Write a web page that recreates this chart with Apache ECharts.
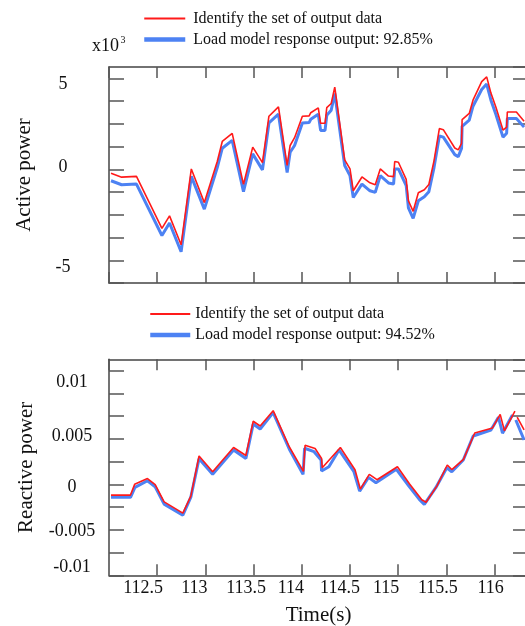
<!DOCTYPE html>
<html><head><meta charset="utf-8">
<script src="https://cdn.jsdelivr.net/npm/echarts@6/dist/echarts.min.js"></script>
<style>html,body{margin:0;padding:0;background:#fff}#c{width:525px;height:626px}</style>
</head><body><div id="c"></div>
<script>
// ---- Data ----
// Active power, in units of 10^3
const timeP = [112.021,112.131,112.285,112.549,112.628,112.748,112.854,112.989,113.123,113.175,113.278,113.395,113.491,113.592,113.659,113.758,113.848,113.879,113.925,114.006,114.076,114.093,114.171,114.195,114.241,114.259,114.305,114.342,114.445,114.500,114.534,114.624,114.707,114.762,114.814,114.899,114.952,114.964,115.002,115.083,115.106,115.155,115.209,115.271,115.318,115.372,115.427,115.468,115.587,115.623,115.657,115.663,115.737,115.776,115.866,115.918,115.962,116.013,116.087,116.125,116.132,116.226,116.306];
const activeMeasured = [-0.22,-0.43,-0.39,-3.25,-2.56,-4.15,0.02,-1.83,0.43,1.53,1.98,-0.83,1.22,0.37,2.92,3.43,0.21,1.31,1.74,2.92,2.94,3.11,3.38,2.53,2.53,3.39,3.62,4.52,0.52,0.02,-1.18,-0.42,-0.74,-0.85,0.02,-0.37,-0.40,0.43,0.39,-0.55,-1.73,-2.31,-1.29,-1.12,-0.83,0.48,2.24,2.18,1.17,1.07,1.42,2.73,3.07,3.80,4.82,5.08,4.19,3.42,2.16,2.32,3.15,3.15,2.64];
const activeModel = [-0.63,-0.85,-0.81,-3.64,-2.95,-4.53,-0.39,-2.19,0.09,1.16,1.59,-1.23,0.85,-0.03,2.55,3.03,-0.17,0.94,1.31,2.55,2.57,2.75,3.03,2.14,2.14,2.97,3.25,4.17,0.21,-0.35,-1.55,-0.81,-1.18,-1.27,-0.35,-0.75,-0.81,0.02,0.02,-0.90,-2.12,-2.70,-1.73,-1.51,-1.23,0.11,1.83,1.77,0.81,0.70,1.15,2.36,2.70,3.47,4.39,4.69,3.80,3.03,1.77,1.98,2.79,2.79,2.32];

// Reactive power
const timeQMeasured = [112.021,112.223,112.266,112.399,112.479,112.572,112.766,112.849,112.934,113.075,113.292,113.420,113.496,113.568,113.703,113.871,114.017,114.034,114.138,114.205,114.212,114.400,114.552,114.607,114.700,114.780,114.992,115.116,115.245,115.289,115.401,115.509,115.556,115.677,115.794,115.978,116.058,116.102,116.211,116.222,116.234,116.306];
const reactiveMeasured = [-0.00118,-0.00118,0.00000,0.00064,-0.00004,-0.00192,-0.00316,-0.00129,0.00312,0.00139,0.00405,0.00317,0.00694,0.00642,0.00810,0.00411,0.00143,0.00430,0.00394,0.00286,0.00183,0.00405,0.00161,-0.00052,0.00110,0.00051,0.00194,0.00006,-0.00170,-0.00197,-0.00019,0.00213,0.00163,0.00275,0.00565,0.00620,0.00769,0.00589,0.00804,null,0.00738,0.00598];
const timeQModel = [112.021,112.223,112.269,112.399,112.479,112.572,112.766,112.849,112.934,113.075,113.292,113.420,113.496,113.568,113.703,113.871,114.013,114.029,114.127,114.200,114.205,114.281,114.386,114.541,114.600,114.692,114.769,114.981,115.111,115.219,115.271,115.390,115.504,115.556,115.675,115.778,115.962,116.040,116.082,116.185,116.195,116.220,116.306];
const reactiveModel = [-0.00143,-0.00143,-0.00033,0.00040,-0.00026,-0.00217,-0.00338,-0.00140,0.00282,0.00110,0.00378,0.00284,0.00664,0.00609,0.00789,0.00386,0.00110,0.00397,0.00359,0.00268,0.00147,0.00194,0.00378,0.00139,-0.00074,0.00077,0.00018,0.00165,-0.00019,-0.00165,-0.00220,-0.00037,0.00183,0.00139,0.00268,0.00532,0.00598,0.00738,0.00562,0.00763,null,0.00708,0.00488];

const legendNames = ['Identify the set of output data','Load model response output: 92.85%','Load model response output: 94.52%'];
const xTickLabels = ['112.5','113','113.5','114','114.5','115','115.5','116'];
const yTickLabelsP = ['-5','0','5'];
const yTickLabelsQ = ['-0.01','-0.005','0','0.005','0.01'];

// ---- Chart ----
const RED = '#ff1a1a', BLUE = '#4d82f3';
const FONT = 'Liberation Serif';
const zip = (ts, vs) => ts.map((t, i) => [t, vs[i] === null ? '-' : vs[i]]);
const near = (a, b) => Math.abs(a - b) < 1e-7;

const XMIN = 112, XMAX = 116.3465;
const axisLine = { show: true, onZero: false, lineStyle: { color: '#444', width: 1.5 } };

const richBase = { fontFamily: FONT, fontSize: 18, color: '#111' };
// horizontal nudges of the time labels, as in the reference
const xShift = [28, 22, 15, 22, 20, 24, 17, 8];
const xRich = {};
xShift.forEach((s, i) => { xRich['x' + i] = Object.assign({ padding: [0, s, 0, 0] }, richBase); });

function xAxis(grid, pos, labels) {
  return {
    type: 'value', gridIndex: grid, position: pos, min: XMIN, max: XMAX, interval: 0.5,
    axisLine: axisLine,
    axisTick: { show: true, inside: true, length: 11, lineStyle: { color: '#555', width: 1.5 } },
    splitLine: { show: false },
    axisLabel: labels ? {
      show: true, margin: 4, fontFamily: FONT, fontSize: 18, color: '#111',
      showMinLabel: false, showMaxLabel: false,
      formatter: v => { const i = xTickLabels.findIndex(s => near(parseFloat(s), v)); return i < 0 ? '' : '{x' + i + '|' + xTickLabels[i] + '}'; },
      rich: xRich
    } : { show: false },
    name: labels ? 'Time(s)' : '', nameLocation: 'middle', nameGap: 30,
    nameTextStyle: { fontFamily: FONT, fontSize: 21, color: '#111' }
  };
}

function yAxis(grid, pos, min, max, interval, labelCfg, name, nameGap) {
  return {
    type: 'value', gridIndex: grid, position: pos, min: min, max: max, interval: interval,
    axisLine: axisLine,
    axisTick: { show: true, inside: true, length: 15, lineStyle: { color: '#555', width: 1.5 } },
    splitLine: { show: false },
    axisLabel: labelCfg || { show: false },
    name: name || '', nameLocation: 'middle', nameGap: nameGap || 0, nameRotate: 90,
    nameTextStyle: { fontFamily: FONT, fontSize: 21, color: '#111' }
  };
}

const labelP = {
  show: true, align: 'center', margin: 46, showMinLabel: true, showMaxLabel: false,
  formatter: v => { const i = yTickLabelsP.findIndex(s => near(parseFloat(s), v)); return i < 0 ? '' : '{p' + i + '|' + yTickLabelsP[i] + '}'; },
  rich: {
    p0: Object.assign({ padding: [14, 0, 0, 0] }, richBase),
    p1: Object.assign({ padding: [0, 0, 5, 0] }, richBase),
    p2: Object.assign({ padding: [12, 0, 0, 0] }, richBase)
  }
};
const labelQ = {
  show: true, align: 'center', margin: 37, showMinLabel: true, showMaxLabel: false,
  formatter: v => { const i = yTickLabelsQ.findIndex(s => near(parseFloat(s), v)); return i < 0 ? '' : '{q' + i + '|' + yTickLabelsQ[i] + '}'; },
  rich: {
    q0: Object.assign({ padding: [0, 0, 17, 0] }, richBase),
    q1: Object.assign({ padding: [2, 0, 0, 0] }, richBase),
    q2: Object.assign({ padding: [6, 0, 0, 0] }, richBase),
    q3: Object.assign({ padding: [0, 0, 6, 0] }, richBase),
    q4: Object.assign({ padding: [0, 0, 22, 0] }, richBase)
  }
};

function line(name, color, width, data, xi, yi) {
  return {
    type: 'line', name: name, data: data, xAxisIndex: xi, yAxisIndex: yi,
    symbol: 'none', showSymbol: false, connectNulls: false, clip: true,
    lineStyle: { color: color, width: width }, itemStyle: { color: color },
    emphasis: { disabled: true }
  };
}

const legendText = { fontFamily: FONT, fontSize: 16, color: '#111', lineHeight: 18 };
const legendItem = (name, color, width) => ({ name: name, lineStyle: { width: width, color: color }, itemStyle: { opacity: 0 } });

const option = {
  animation: false,
  backgroundColor: '#fff',
  grid: [
    { left: 109, top: 67, width: 419, height: 216, outerBoundsMode: 'none', containLabel: false },
    { left: 109, top: 359.3, width: 419, height: 216, outerBoundsMode: 'none', containLabel: false }
  ],
  xAxis: [xAxis(0, 'bottom', false), xAxis(0, 'top', false), xAxis(1, 'bottom', true), xAxis(1, 'top', false)],
  yAxis: [
    yAxis(0, 'left', -6.25, 5.625, 1.25, labelP, 'Active power', 74),
    yAxis(0, 'right', -6.25, 5.625, 1.25, null),
    yAxis(1, 'left', -0.01, 0.01375, 0.0025, labelQ, 'Reactive power', 72),
    yAxis(1, 'right', -0.01, 0.01375, 0.0025, null)
  ],
  legend: [
    {
      orient: 'vertical', left: 142, top: 9.5, padding: 0, itemWidth: 41, itemHeight: 14, itemGap: 3,
      textStyle: Object.assign({ padding: [0, 0, 0, 3] }, legendText),
      data: [legendItem(legendNames[0], RED, 1.8), legendItem(legendNames[1], BLUE, 4.5)],
      selectedMode: false
    },
    {
      orient: 'vertical', left: 148, top: 305, padding: 0, itemWidth: 40, itemHeight: 14, itemGap: 3,
      textStyle: legendText,
      data: [legendItem(legendNames[0], RED, 1.8), legendItem(legendNames[2], BLUE, 4.5)],
      selectedMode: false
    }
  ],
  graphic: [
    { type: 'text', left: 92, top: 37, style: { text: 'x10', fontFamily: FONT, fontSize: 18, fill: '#111' } },
    { type: 'text', left: 120.5, top: 35, style: { text: '3', fontFamily: FONT, fontSize: 10, fill: '#111' } }
  ],
  series: [
    line(legendNames[1], BLUE, 3, zip(timeP, activeModel), 0, 0),
    line(legendNames[0], RED, 1.6, zip(timeP, activeMeasured), 0, 0),
    line(legendNames[2], BLUE, 3, zip(timeQModel, reactiveModel), 2, 2),
    line(legendNames[0], RED, 1.6, zip(timeQMeasured, reactiveMeasured), 2, 2)
  ]
};

const chart = echarts.init(document.getElementById('c'), null, { renderer: 'canvas' });
chart.setOption(option);
</script>
</body></html>
